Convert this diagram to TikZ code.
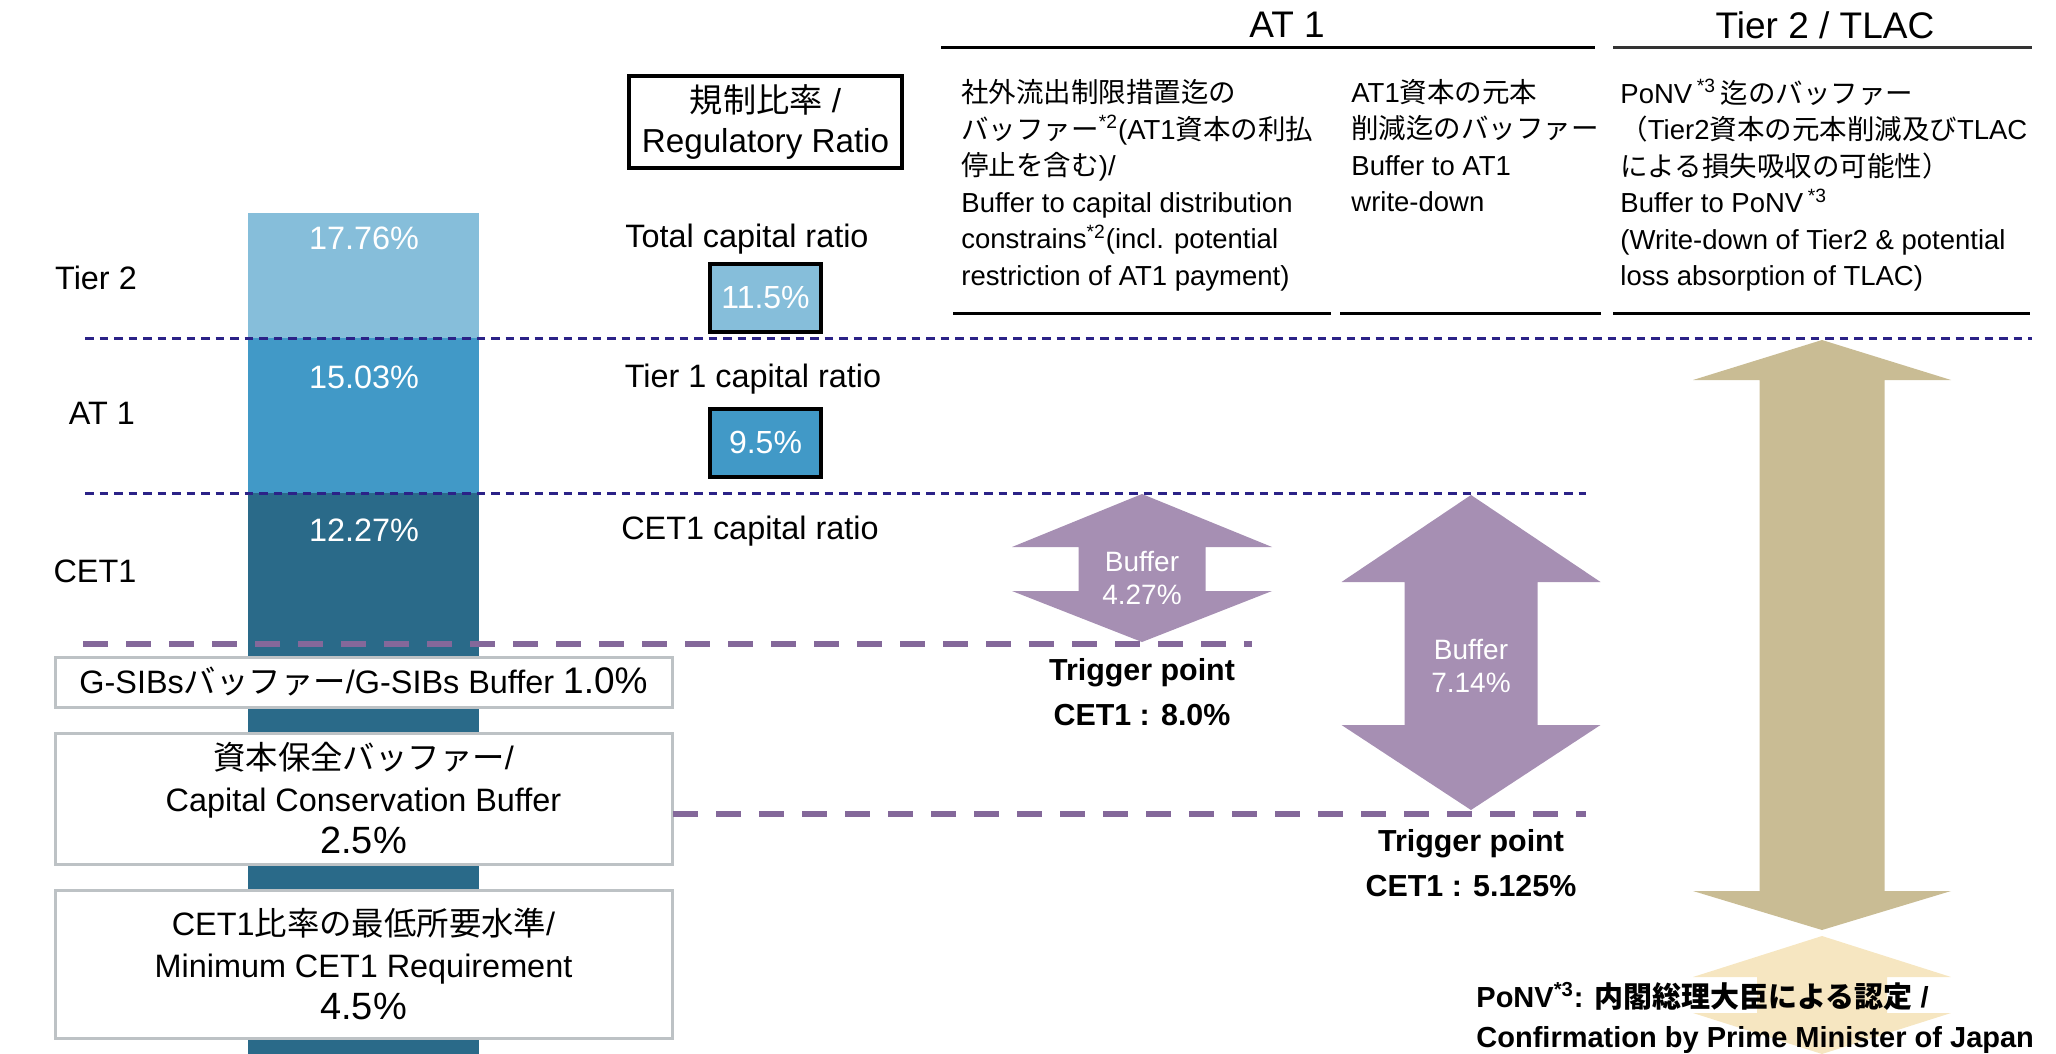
\documentclass[tikz,border=0pt]{standalone}
\usepackage{fontspec}
\setmainfont{Liberation Sans}
\newfontfamily\jpfont{Noto Sans CJK JP}
\newcommand{\ja}[1]{{\jpfont #1}}
\definecolor{tiertwo}{HTML}{86BEDA}
\definecolor{tierone}{HTML}{4199C7}
\definecolor{cetone}{HTML}{2A6A89}
\definecolor{bufpurple}{HTML}{A68FB3}
\definecolor{trigpurple}{HTML}{84689A}
\definecolor{levelnavy}{HTML}{2B2287}
\definecolor{ponvtan}{HTML}{C9BC94}
\definecolor{ponvwheat}{HTML}{F6E6C1}
\definecolor{boxgray}{HTML}{BDC2C5}
\begin{document}
\begin{tikzpicture}[x=0.5pt, y=-0.5pt,
	lbl/.style={inner sep=0pt, font=\fontsize{16.2}{20}\selectfont},
	pct/.style={lbl, text=white},
	colhead/.style={inner sep=0pt, font=\fontsize{18.5}{22}\selectfont},
	coltext/.style={inner sep=0pt, anchor=north west, align=left, font=\fontsize{13.75}{18.25}\selectfont},
	ratiobox/.style={draw=black, line width=2pt, minimum width=55.5pt, minimum height=34pt, inner sep=0pt, text=white, font=\fontsize{16}{20}\selectfont},
	reqbox/.style={draw=boxgray, line width=1.5pt, fill=white, minimum width=308.5pt, inner sep=0pt, align=center, font=\fontsize{16.2}{21}\selectfont},
	levelline/.style={levelnavy, line width=1.5pt, dash pattern=on 4.25pt off 3pt},
	trigline/.style={trigpurple, line width=3pt, dash pattern=on 12.5pt off 9pt},
	buftext/.style={inner sep=0pt, text=white, align=center, font=\fontsize{14}{16.5}\selectfont},
	trigtext/.style={inner sep=0pt, align=center, font=\bfseries\fontsize{15.2}{22.5}\selectfont},
	]
	\useasboundingbox (0,0) rectangle (2056,1054);
	% capital bar
	\fill[tiertwo] (248,213) rectangle (479,338);
	\fill[tierone] (248,338) rectangle (479,493);
	\fill[cetone]  (248,493) rectangle (479,1054);
	\foreach \val/\yy [count=\i] in {17.76/238, 15.03/377, 12.27/530}
	{
		\node[pct] (bar_\i) at (364,\yy) {\val\%};
	}
	% layer names
	\node[lbl] (lab_t2)   at (96,278)  {Tier 2};
	\node[lbl] (lab_at1)  at (102,413) {AT 1};
	\node[lbl] (lab_cet1) at (95,571)  {CET1};
	% level lines
	\draw[levelline] (85,338) -- (2032,338);
	\draw[levelline] (85,493) -- (1586,493);
	% requirement boxes
	\node[reqbox, minimum height=25pt] (req_gsib) at (363.5,682)
		{G-SIBs\ja{バッファー}/G-SIBs Buffer {\fontsize{18.5}{21}\selectfont 1.0\%}};
	\node[reqbox, minimum height=65.5pt] (req_ccb) at (363.5,798.5)
		{\ja{資本保全バッファー}/\\Capital Conservation Buffer\\{\fontsize{19}{21}\selectfont 2.5\%}};
	\node[reqbox, minimum height=74pt] (req_min) at (363.5,964)
		{CET1\ja{比率の最低所要水準}/\\Minimum CET1 Requirement\\{\fontsize{19}{21}\selectfont 4.5\%}};
	% regulatory ratios
	\node[draw, line width=2pt, minimum width=136.5pt, minimum height=46pt, inner sep=0pt,
		align=center, font=\fontsize{16.6}{20}\selectfont] (regratio) at (765.5,122)
		{\ja{規制比率} /\\Regulatory Ratio};
	\node[lbl] (ratio_total) at (747,239) {Total capital ratio};
	\node[ratiobox, fill=tiertwo] (req_total) at (765.5,298) {11.5\%};
	\node[lbl] (ratio_t1) at (753,379) {Tier 1 capital ratio};
	\node[ratiobox, fill=tierone] (req_t1) at (765.5,442.5) {9.5\%};
	\node[lbl] (ratio_cet1) at (750,531) {CET1 capital ratio};
	% column heads
	\node[colhead] (head_at1)  at (1287,25) {AT 1};
	\node[colhead] (head_tier2) at (1825,25) {Tier 2 / TLAC};
	\draw[line width=1.5pt] (941,48) -- (1595,48);
	\draw[line width=1.5pt, black!80] (1613,48) -- (2032,48);
	\draw[line width=1.5pt] (953,313) -- (1331,313);
	\draw[line width=1.5pt] (1340,313) -- (1601,313);
	\draw[line width=1.5pt] (1613,313) -- (2030,313);
	\node[coltext] (col_dist) at (961,79)
		{\ja{社外流出制限措置迄の}\\
		 \ja{バッファー}\textsuperscript{*2}(AT1\ja{資本の利払}\\
		 \ja{停止を含む})/\\
		 Buffer to capital distribution\\
		 constrains\textsuperscript{*2}(incl. potential\\
		 restriction of AT1 payment)};
	\node[coltext] (col_wd) at (1351,79)
		{AT1\ja{資本の元本}\\
		 \ja{削減迄のバッファー}\\
		 Buffer to AT1\\
		 write-down};
	\node[coltext] (col_ponv) at (1620,79)
		{PoNV\,\textsuperscript{*3}\,\ja{迄のバッファー}\\
		 \ja{（}Tier2\ja{資本の元本削減及び}TLAC\\
		 \ja{による損失吸収の可能性）}\\
		 Buffer to PoNV\,\textsuperscript{*3}\\
		 (Write-down of Tier2 \& potential\\
		 loss absorption of TLAC)};
	% block arrows: centre x / top tip / upper base / lower base / bottom tip / half head / half shaft / colour
	\foreach \cx/\ya/\yb/\yc/\yd/\hh/\hs/\col in {
		1142/494/547/591/642/130/63.5/bufpurple,
		1471/495/582/725/810/129.5/66.5/bufpurple,
		1822/340/380/891/930/129/62.5/ponvtan,
		1822/936/977/1013/1054/129/65/ponvwheat}
	{
		\fill[\col] (\cx,\ya) -- (\cx+\hh,\yb) -- (\cx+\hs,\yb) -- (\cx+\hs,\yc)
			-- (\cx+\hh,\yc) -- (\cx,\yd) -- (\cx-\hh,\yc) -- (\cx-\hs,\yc)
			-- (\cx-\hs,\yb) -- (\cx-\hh,\yb) -- cycle;
	}
	\node[buftext] (buf_a) at (1142,578) {Buffer\\4.27\%};
	\node[buftext] (buf_b) at (1471,666) {Buffer\\7.14\%};
	% trigger points
	\draw[trigline] (83,644) -- (1252,644);
	\draw[trigline] (673,814) -- (1586,814);
	\node[trigtext] (trig_a) at (1142,692) {Trigger point\\CET1 : 8.0\%};
	\node[trigtext] (trig_b) at (1471,863) {Trigger point\\CET1 : 5.125\%};
	% PoNV
	\node[inner sep=0pt, anchor=west, align=left, font=\bfseries\fontsize{14.5}{20}\selectfont] (ponv_note) at (1476,1018)
		{PoNV\textsuperscript{*3}: \ja{内閣総理大臣による認定} /\\
		 Confirmation by Prime Minister of Japan};
\end{tikzpicture}
\end{document}
